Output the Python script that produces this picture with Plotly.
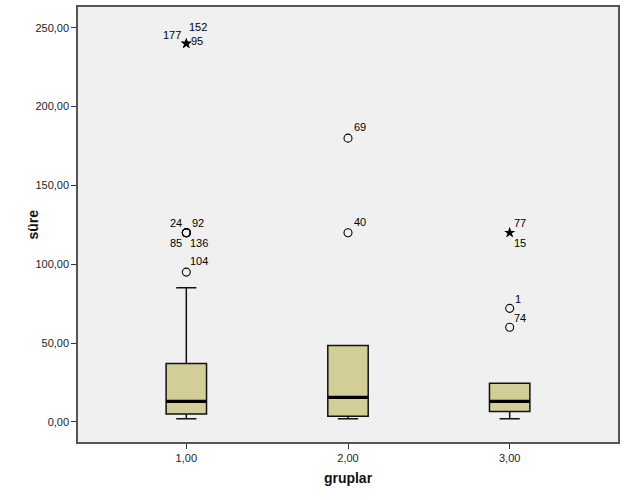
import plotly.graph_objects as go

# ---- data ----
groups = [1, 2, 3]
q1 = [5, 3.5, 6.5]
median = [13, 15.5, 13]
q3 = [37, 48.5, 24.5]
lower_whisker = [2, 2, 2]
upper_whisker = [85, 48.5, 24.5]

# mild outliers (circles)
circle_x = [1, 1, 1, 1, 1, 2, 2, 3, 3]
circle_y = [120, 120, 120, 120, 95, 180, 120, 72, 60]
# extreme outliers (stars)
star_x = [1, 1, 1, 3, 3]
star_y = [240, 240, 240, 120, 120]

# case labels
label_x = [1, 1, 1, 1, 1, 1, 1, 1, 2, 2, 3, 3, 3, 3]
label_y = [240, 240, 240, 120, 120, 120, 120, 95, 180, 120, 120, 120, 72, 60]
label_text = ["177", "152", "95", "24", "92", "85", "136", "104", "69", "40", "77", "15", "1", "74"]

tick_vals_y = [0, 50, 100, 150, 200, 250]

# ---- style ----
label_place = [  # (xanchor, xshift, yshift)
    ("right", -3, 9), ("left", 1, 17), ("left", 3, 3),
    ("right", -2, 10), ("left", 4, 10), ("right", -2, -10), ("left", 2, -10),
    ("left", 2, 11),
    ("left", 4, 11), ("left", 4, 11),
    ("left", 2, 10), ("left", 2, -10),
    ("left", 3, 9), ("left", 2, 9),
]
box_w = 0.25
font_family = "Liberation Sans, Arial, sans-serif"

fig = go.Figure()
fig.add_trace(go.Box(
    x=groups, q1=q1, median=median, q3=q3,
    lowerfence=lower_whisker, upperfence=upper_whisker,
    boxpoints=False, width=box_w, whiskerwidth=0.5,
    fillcolor="#D3CE97", line=dict(color="#111111", width=1.5),
    showlegend=False, hoverinfo="skip",
))

mx, my = [], []
for g, m in zip(groups, median):
    mx += [g - box_w / 2, g + box_w / 2, None]
    my += [m, m, None]
fig.add_trace(go.Scatter(x=mx, y=my, mode="lines",
                         line=dict(color="black", width=3.2),
                         showlegend=False, hoverinfo="skip"))

fig.add_trace(go.Scatter(x=circle_x, y=circle_y, mode="markers",
                         marker=dict(symbol="circle-open", size=8, color="black",
                                     line=dict(width=1.1, color="black")),
                         showlegend=False, hoverinfo="skip"))
fig.add_trace(go.Scatter(x=star_x, y=star_y, mode="markers",
                         marker=dict(symbol="star", size=8, color="black",
                                     line=dict(width=0)),
                         showlegend=False, hoverinfo="skip"))

for xv, yv, t, (xa, xs, ys) in zip(label_x, label_y, label_text, label_place):
    fig.add_annotation(x=xv, y=yv, text=t, showarrow=False,
                       xanchor=xa, yanchor="middle", xshift=xs, yshift=ys,
                       font=dict(family=font_family, size=11, color="black"))

# y-axis title placed as a rotated annotation for exact position
fig.add_annotation(x=-0.085, y=0.5, xref="paper", yref="paper",
                   text="<b>süre</b>", textangle=-90, showarrow=False,
                   xanchor="center", yanchor="middle",
                   font=dict(family=font_family, size=14, color="#111111"))

fig.update_layout(
    width=625, height=500,
    margin=dict(l=78, r=6, t=5, b=58),
    paper_bgcolor="white", plot_bgcolor="#F0F0F0",
    separators=",.",
    font=dict(family=font_family, size=11, color="black"),
    showlegend=False,
)
fig.update_xaxes(
    range=[0.33, 3.67], tickvals=groups, tickformat=".2f",
    showgrid=False, zeroline=False,
    showline=True, mirror=True, linecolor="#555555", linewidth=1.5,
    ticks="outside", ticklen=5, tickcolor="#333333",
    tickfont=dict(size=11, color="#222222"),
    title=dict(text="<b>gruplar</b>", font=dict(size=14, color="#111111"), standoff=10),
)
fig.update_yaxes(
    range=[-12.8, 263.2], tickvals=tick_vals_y, tickformat=".2f",
    showgrid=False, zeroline=False,
    showline=True, mirror=True, linecolor="#555555", linewidth=1.5,
    ticks="outside", ticklen=5, tickcolor="#333333",
    tickfont=dict(size=11, color="#222222"),
)

fig.write_html("out.html")
